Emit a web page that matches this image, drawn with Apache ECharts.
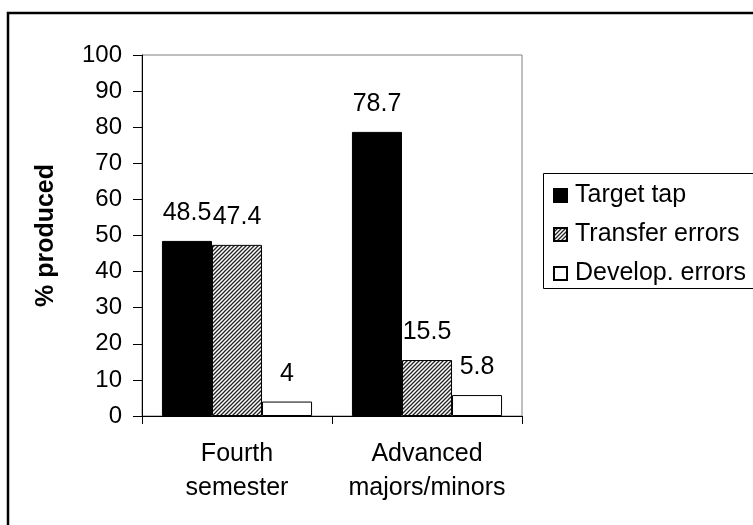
<!DOCTYPE html>
<html>
<head>
<meta charset="utf-8">
<script src="https://cdn.jsdelivr.net/npm/echarts@6/dist/echarts.min.js"></script>
<style>
  html, body { margin: 0; padding: 0; background: #fff; }
  #chart { width: 753px; height: 525px; }
</style>
</head>
<body>
<div id="chart"></div>
<script>
const categories = ['Fourth\nsemester', 'Advanced\nmajors/minors'];
const seriesNames = ['Target tap', 'Transfer errors', 'Develop. errors'];
const targetTap = [48.5, 78.7];
const transferErrors = [47.4, 15.5];
const developErrors = [4, 5.8];
const yTicks = { min: 0, max: 100, interval: 10 };
const yAxisTitle = '% produced';

function makeHatch() {
  const p = 4;
  const c = document.createElement('canvas');
  c.width = p; c.height = p;
  const ctx = c.getContext('2d');
  ctx.fillStyle = '#ffffff';
  ctx.fillRect(0, 0, p, p);
  ctx.strokeStyle = '#222222';
  ctx.lineWidth = 1.3;
  ctx.beginPath();
  ctx.moveTo(-1, p + 1); ctx.lineTo(p + 1, -1);
  ctx.moveTo(-1, 1); ctx.lineTo(1, -1);
  ctx.moveTo(p - 1, p + 1); ctx.lineTo(p + 1, p - 1);
  ctx.stroke();
  return c;
}
const hatch = { image: makeHatch(), repeat: 'repeat' };

const FONT = 'Liberation Sans, Arial, sans-serif';
const labelStyle = {
  show: true, position: 'top', distance: 15,
  color: '#000', fontSize: 25, fontFamily: FONT
};

const chart = echarts.init(document.getElementById('chart'), null, { renderer: 'canvas' });
chart.setOption({
  animation: false,
  backgroundColor: '#fff',
  textStyle: { fontFamily: FONT },
  graphic: [
    { type: 'rect', shape: { x: 8, y: 13, width: 770, height: 540 },
      style: { fill: 'none', stroke: '#000', lineWidth: 2.5 }, silent: true, z: 100 },
    { type: 'rect', shape: { x: 543.5, y: 173.5, width: 240, height: 115 },
      style: { fill: 'none', stroke: '#000', lineWidth: 1 }, silent: true, z: 100 }
  ],
  grid: {
    left: 142, top: 55, right: 231, bottom: 109,
    show: true, borderColor: '#808080', borderWidth: 1, backgroundColor: 'transparent'
  },
  legend: {
    orient: 'vertical', left: 553, top: 183, padding: 0,
    itemWidth: 13, itemHeight: 13, itemGap: 14,
    icon: 'rect',
    textStyle: { color: '#000', fontSize: 25, fontFamily: FONT, padding: [0, 0, 0, 3] },
    data: seriesNames
  },
  xAxis: {
    type: 'category', data: categories,
    axisLine: { lineStyle: { color: '#000', width: 1 } },
    axisTick: { show: true, length: 8, lineStyle: { color: '#000' } },
    axisLabel: { color: '#000', fontSize: 25, lineHeight: 34, margin: 21, fontFamily: FONT, interval: 0 },
    splitLine: { show: false }
  },
  yAxis: {
    type: 'value', min: yTicks.min, max: yTicks.max, interval: yTicks.interval,
    name: yAxisTitle, nameLocation: 'middle', nameGap: 83,
    nameTextStyle: { color: '#000', fontSize: 25, fontWeight: 'bold', fontFamily: FONT },
    axisLine: { show: true, lineStyle: { color: '#000', width: 1 } },
    axisTick: { show: true, length: 9, lineStyle: { color: '#000' } },
    axisLabel: { color: '#000', fontSize: 24, margin: 20, fontFamily: FONT },
    splitLine: { show: false }
  },
  series: [
    { name: seriesNames[0], type: 'bar', data: targetTap, barGap: '0%', barCategoryGap: '21%',
      itemStyle: { color: '#000', borderColor: '#000', borderWidth: 1 }, label: labelStyle },
    { name: seriesNames[1], type: 'bar', data: transferErrors, barGap: '0%', barCategoryGap: '21%',
      itemStyle: { color: hatch, borderColor: '#000', borderWidth: 1 }, label: labelStyle },
    { name: seriesNames[2], type: 'bar', data: developErrors, barGap: '0%', barCategoryGap: '21%',
      itemStyle: { color: '#fff', borderColor: '#000', borderWidth: 1 }, label: labelStyle }
  ]
});
</script>
</body>
</html>
